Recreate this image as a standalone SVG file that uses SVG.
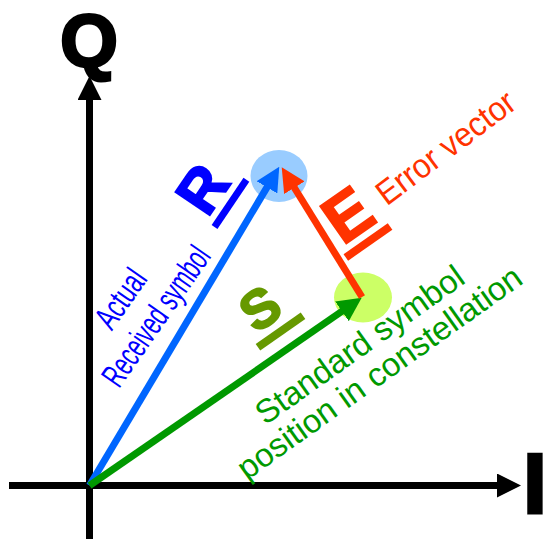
<svg xmlns="http://www.w3.org/2000/svg" width="543" height="539" viewBox="0 0 543 539">
<style>
.big{font-family:"Liberation Sans",Arial,sans-serif;font-weight:bold}
.lbl{font-family:"Liberation Sans",Arial,sans-serif}
.vec{stroke-width:7;fill:none}
</style>
<defs>
<marker id="ah-k" markerUnits="userSpaceOnUse" markerWidth="24" markerHeight="24" viewBox="0 -12 24 24" refX="2" refY="0" orient="auto"><path d="M0,-12 L24,0 L0,12 z" fill="#000"/></marker>
<marker id="ah-b" markerUnits="userSpaceOnUse" markerWidth="24" markerHeight="24" viewBox="0 -12 24 24" refX="2" refY="0" orient="auto"><path d="M0,-12 L24,0 L0,12 z" fill="#0066ff"/></marker>
<marker id="ah-g" markerUnits="userSpaceOnUse" markerWidth="24" markerHeight="24" viewBox="0 -12 24 24" refX="2" refY="0" orient="auto"><path d="M0,-12 L24,0 L0,12 z" fill="#009900"/></marker>
<marker id="ah-r" markerUnits="userSpaceOnUse" markerWidth="24" markerHeight="24" viewBox="0 -12 24 24" refX="2" refY="0" orient="auto"><path d="M0,-12 L24,0 L0,12 z" fill="#ff3300"/></marker>
</defs>
<rect width="543" height="539" fill="#fff"/>

<g id="point-r"><ellipse cx="279" cy="176" rx="28.5" ry="26" fill="#99ccff"/></g>
<g id="point-s"><ellipse cx="363" cy="297.5" rx="29" ry="25" fill="#ccff66"/></g>

<g id="connectors">
<line id="axis-q" x1="89.5" y1="539" x2="89.5" y2="98" stroke="#000" class="vec" marker-end="url(#ah-k)"/>
<line id="axis-i" x1="9" y1="485.5" x2="499" y2="485.5" stroke="#000" class="vec" marker-end="url(#ah-k)"/>
<line id="vec-r" x1="89.5" y1="485.5" x2="268" y2="185.6" stroke="#0066ff" class="vec" stroke-width="6" marker-end="url(#ah-b)"/>
<line id="vec-s" x1="89.5" y1="485.5" x2="343.6" y2="310.2" stroke="#009900" class="vec" marker-end="url(#ah-g)"/>
<line id="vec-e" x1="362" y1="297" x2="293.3" y2="186" stroke="#ff3300" class="vec" marker-end="url(#ah-r)"/>
</g>

<g id="label-q"><text class="big" x="89" y="66" font-size="74" text-anchor="middle" fill="#000" stroke="#000" stroke-width="3">Q</text></g>
<g id="label-i"><text class="big" x="523" y="512.5" font-size="86" fill="#000" stroke="#000" stroke-width="3">I</text></g>

<g id="label-r-vec" transform="translate(207.5,218.6) rotate(-56)">
<text class="big" x="0" y="0" font-size="60" fill="#0000ff" stroke="#0000ff" stroke-width="2">R</text>
<rect x="-3" y="7" width="57" height="7" fill="#0000ff"/>
</g>
<g id="label-e-vec" transform="translate(342.8,246.1) rotate(-35)">
<text class="big" x="0" y="0" font-size="66" fill="#ff3300" stroke="#ff3300" stroke-width="2">E</text>
<rect x="-4" y="7" width="54" height="8" fill="#ff3300"/>
</g>
<g id="label-s-vec" transform="translate(256,334) rotate(-35)">
<text class="big" x="0" y="0" font-size="54" fill="#669900" stroke="#669900" stroke-width="2">S</text>
<rect x="-6" y="8" width="55" height="8" fill="#669900"/>
</g>

<g id="label-received" transform="translate(140,305) rotate(-55)">
<text class="lbl" x="-6" y="-8" font-size="34" fill="#0000ff" text-anchor="middle" textLength="64" lengthAdjust="spacingAndGlyphs">Actual</text>
<text class="lbl" x="0" y="31" font-size="34" fill="#0000ff" text-anchor="middle" textLength="162" lengthAdjust="spacingAndGlyphs">Received symbol</text>
</g>
<g id="label-error" transform="translate(446,148) rotate(-37)">
<text class="lbl" x="0" y="11" font-size="34" fill="#ff3300" text-anchor="middle" textLength="165" lengthAdjust="spacingAndGlyphs">Error vector</text>
</g>
<g id="label-standard" transform="translate(369,358) rotate(-35.5)">
<text class="lbl" x="0" y="-5" font-size="33" fill="#009900" text-anchor="middle">Standard symbol</text>
<text class="lbl" x="0" y="29" font-size="33" fill="#009900" text-anchor="middle">position in constellation</text>
</g>
</svg>
